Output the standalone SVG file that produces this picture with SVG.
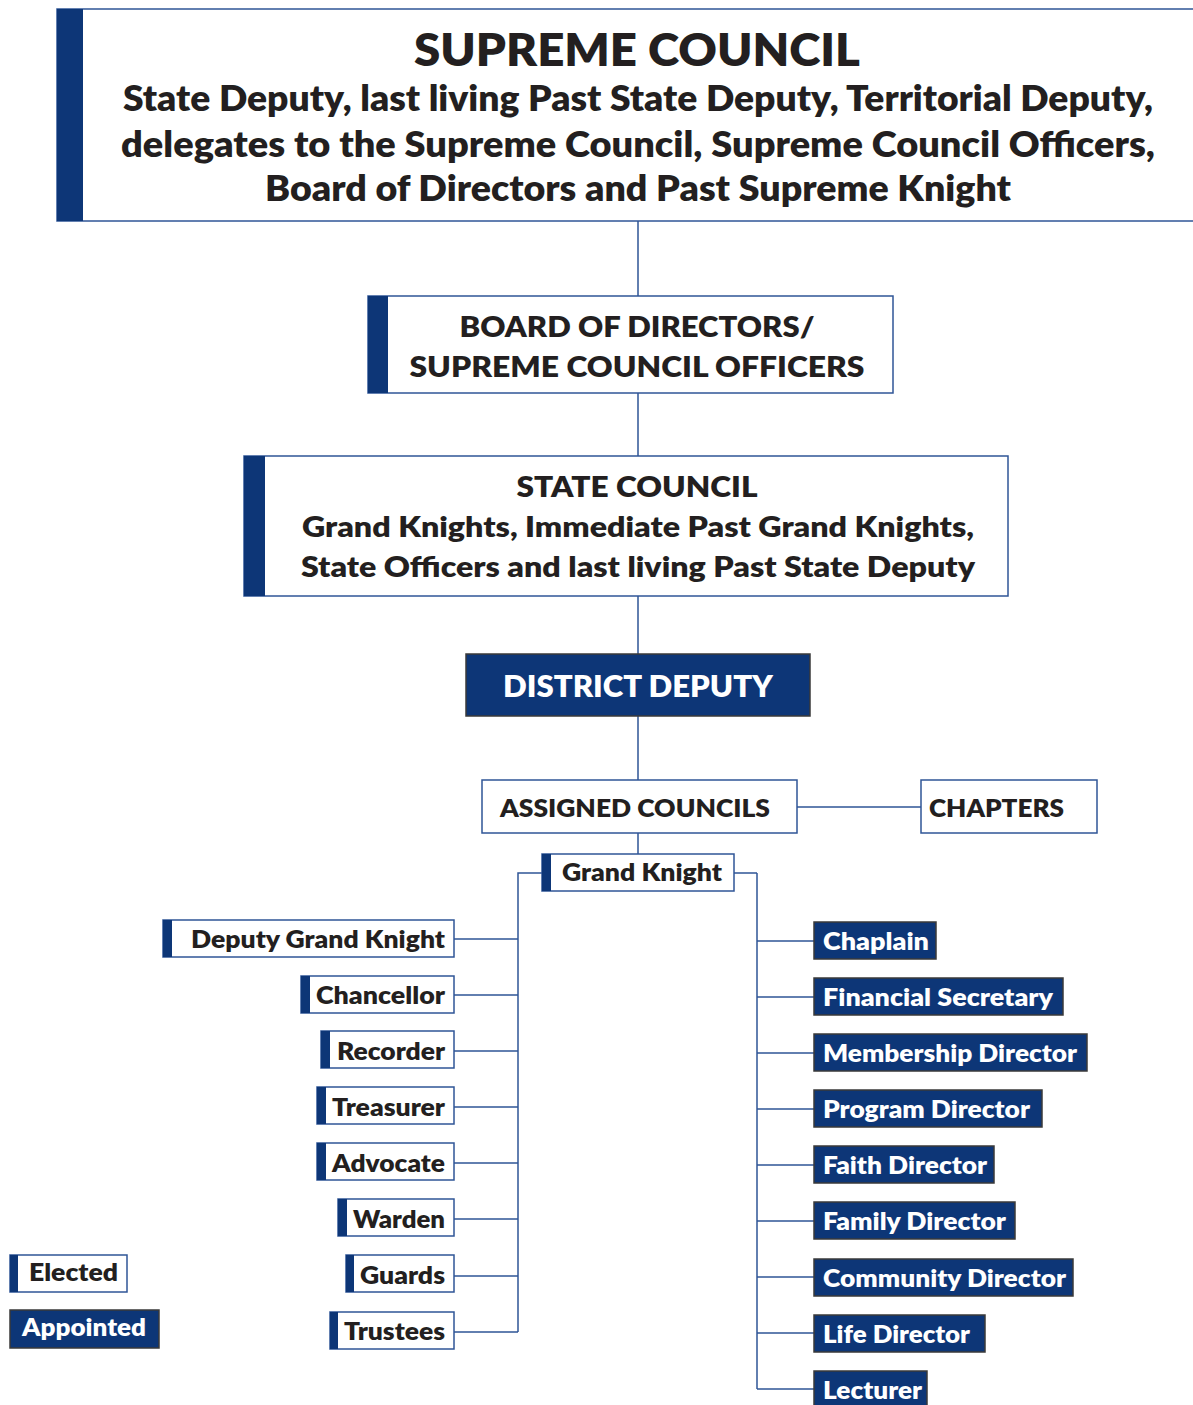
<svg xmlns="http://www.w3.org/2000/svg" width="1193" height="1405" viewBox="0 0 1193 1405">
<style>
.box{fill:#fff;stroke:#2f5597;stroke-width:1.5}
.bar{fill:#0d3677}
.app{fill:#0d3677;stroke:#3a3a3a;stroke-width:1.5}
.t{font-family:Lato,"Open Sans","Liberation Sans",sans-serif;font-weight:800;fill:#231f20}
.w{fill:#fff}
.c{text-anchor:middle}
.e{text-anchor:end}
.ln{fill:none;stroke:#2f5597;stroke-width:1.5}
</style>
<rect width="1193" height="1405" fill="#fff"/>
<g id="connectors">
<path class="ln" d="M638 221V296M638 393V456M638 596V654M638 716V780M638 833V854M797 807H921"/>
<path class="ln" d="M542 873H518V1332M757 873V1389M734 873H757"/>
<path class="ln" d="M454 939H518M454 995H518M454 1051H518M454 1107H518M454 1163H518M454 1219H518M454 1276H518M454 1332H518"/>
<path class="ln" d="M757 941H814M757 997H814M757 1053H814M757 1109H814M757 1165H814M757 1221H814M757 1277H814M757 1333H814M757 1389H814"/>
</g>
<g id="supreme">
<rect class="box" x="57" y="9" width="1150" height="212"/>
<rect class="bar" x="57" y="9" width="26" height="212"/>
<text class="t c" x="637" y="66" font-size="46" textLength="446" lengthAdjust="spacingAndGlyphs">SUPREME COUNCIL</text>
<text class="t c" x="638" y="111" font-size="35" textLength="1030" lengthAdjust="spacingAndGlyphs">State Deputy, last living Past State Deputy, Territorial Deputy,</text>
<text class="t c" x="638" y="157" font-size="35" textLength="1034" lengthAdjust="spacingAndGlyphs">delegates to the Supreme Council, Supreme Council Officers,</text>
<text class="t c" x="638" y="201" font-size="35" textLength="746" lengthAdjust="spacingAndGlyphs">Board of Directors and Past Supreme Knight</text>
</g>
<g id="board">
<rect class="box" x="368" y="296" width="525" height="97"/>
<rect class="bar" x="368" y="296" width="20" height="97"/>
<text class="t c" x="637" y="337" font-size="28" textLength="355" lengthAdjust="spacingAndGlyphs">BOARD OF DIRECTORS/</text>
<text class="t c" x="637" y="377" font-size="28" textLength="455" lengthAdjust="spacingAndGlyphs">SUPREME COUNCIL OFFICERS</text>
</g>
<g id="state">
<rect class="box" x="244" y="456" width="764" height="140"/>
<rect class="bar" x="244" y="456" width="21" height="140"/>
<text class="t c" x="637" y="497" font-size="28" textLength="241" lengthAdjust="spacingAndGlyphs">STATE COUNCIL</text>
<text class="t c" x="638" y="537" font-size="28" textLength="672" lengthAdjust="spacingAndGlyphs">Grand Knights, Immediate Past Grand Knights,</text>
<text class="t c" x="638" y="577" font-size="28" textLength="674" lengthAdjust="spacingAndGlyphs">State Officers and last living Past State Deputy</text>
</g>
<g id="district">
<rect class="app" x="466" y="654" width="344" height="62"/>
<text class="t w c" x="638" y="697" font-size="30" textLength="270" lengthAdjust="spacingAndGlyphs">DISTRICT DEPUTY</text>
</g>
<g id="assigned">
<rect class="box" x="482" y="780" width="315" height="53"/>
<text class="t" x="500" y="817" font-size="25" textLength="270" lengthAdjust="spacingAndGlyphs">ASSIGNED COUNCILS</text>
</g>
<g id="chapters">
<rect class="box" x="921" y="780" width="176" height="53"/>
<text class="t" x="929" y="817" font-size="25" textLength="135" lengthAdjust="spacingAndGlyphs">CHAPTERS</text>
</g>
<g id="grand-knight">
<rect class="box" x="542" y="854" width="192" height="37"/>
<rect class="bar" x="542" y="854" width="9" height="37"/>
<text class="t" x="562" y="881" font-size="25" textLength="160" lengthAdjust="spacingAndGlyphs">Grand Knight</text>
</g>
<g id="deputy-grand-knight">
<rect class="box" x="163" y="920" width="291" height="37"/>
<rect class="bar" x="163" y="920" width="9" height="37"/>
<text class="t e" x="445" y="948" font-size="25" textLength="254" lengthAdjust="spacingAndGlyphs">Deputy Grand Knight</text>
</g>
<g id="chancellor">
<rect class="box" x="301" y="976" width="153" height="37"/>
<rect class="bar" x="301" y="976" width="9" height="37"/>
<text class="t e" x="445" y="1004" font-size="25" textLength="129" lengthAdjust="spacingAndGlyphs">Chancellor</text>
</g>
<g id="recorder">
<rect class="box" x="321" y="1031" width="133" height="37"/>
<rect class="bar" x="321" y="1031" width="9" height="37"/>
<text class="t e" x="445" y="1060" font-size="25" textLength="108" lengthAdjust="spacingAndGlyphs">Recorder</text>
</g>
<g id="treasurer">
<rect class="box" x="317" y="1087" width="137" height="37"/>
<rect class="bar" x="317" y="1087" width="9" height="37"/>
<text class="t e" x="445" y="1116" font-size="25" textLength="113" lengthAdjust="spacingAndGlyphs">Treasurer</text>
</g>
<g id="advocate">
<rect class="box" x="317" y="1143" width="137" height="37"/>
<rect class="bar" x="317" y="1143" width="9" height="37"/>
<text class="t e" x="445" y="1172" font-size="25" textLength="113" lengthAdjust="spacingAndGlyphs">Advocate</text>
</g>
<g id="warden">
<rect class="box" x="338" y="1199" width="116" height="37"/>
<rect class="bar" x="338" y="1199" width="9" height="37"/>
<text class="t e" x="445" y="1228" font-size="25" textLength="92" lengthAdjust="spacingAndGlyphs">Warden</text>
</g>
<g id="guards">
<rect class="box" x="346" y="1255" width="108" height="37"/>
<rect class="bar" x="346" y="1255" width="8" height="37"/>
<text class="t e" x="445" y="1284" font-size="25" textLength="85" lengthAdjust="spacingAndGlyphs">Guards</text>
</g>
<g id="trustees">
<rect class="box" x="330" y="1312" width="124" height="37"/>
<rect class="bar" x="330" y="1312" width="8" height="37"/>
<text class="t e" x="445" y="1340" font-size="25" textLength="101" lengthAdjust="spacingAndGlyphs">Trustees</text>
</g>
<g id="chaplain">
<rect class="app" x="814" y="922" width="122" height="37"/>
<text class="t w" x="823" y="950" font-size="25" textLength="106" lengthAdjust="spacingAndGlyphs">Chaplain</text>
</g>
<g id="financial-secretary">
<rect class="app" x="814" y="978" width="249" height="37"/>
<text class="t w" x="823" y="1006" font-size="25" textLength="230" lengthAdjust="spacingAndGlyphs">Financial Secretary</text>
</g>
<g id="membership-director">
<rect class="app" x="814" y="1034" width="273" height="37"/>
<text class="t w" x="823" y="1062" font-size="25" textLength="254" lengthAdjust="spacingAndGlyphs">Membership Director</text>
</g>
<g id="program-director">
<rect class="app" x="814" y="1090" width="228" height="37"/>
<text class="t w" x="823" y="1118" font-size="25" textLength="207" lengthAdjust="spacingAndGlyphs">Program Director</text>
</g>
<g id="faith-director">
<rect class="app" x="814" y="1146" width="180" height="37"/>
<text class="t w" x="823" y="1174" font-size="25" textLength="164" lengthAdjust="spacingAndGlyphs">Faith Director</text>
</g>
<g id="family-director">
<rect class="app" x="814" y="1202" width="201" height="37"/>
<text class="t w" x="823" y="1230" font-size="25" textLength="183" lengthAdjust="spacingAndGlyphs">Family Director</text>
</g>
<g id="community-director">
<rect class="app" x="814" y="1259" width="259" height="37"/>
<text class="t w" x="823" y="1287" font-size="25" textLength="243" lengthAdjust="spacingAndGlyphs">Community Director</text>
</g>
<g id="life-director">
<rect class="app" x="814" y="1315" width="171" height="37"/>
<text class="t w" x="823" y="1343" font-size="25" textLength="147" lengthAdjust="spacingAndGlyphs">Life Director</text>
</g>
<g id="lecturer">
<rect class="app" x="814" y="1371" width="113" height="40"/>
<text class="t w" x="823" y="1399" font-size="25" textLength="99" lengthAdjust="spacingAndGlyphs">Lecturer</text>
</g>
<g id="legend-elected">
<rect class="box" x="10" y="1255" width="117" height="37"/>
<rect class="bar" x="10" y="1255" width="8" height="37"/>
<text class="t" x="29" y="1281" font-size="25" textLength="89" lengthAdjust="spacingAndGlyphs">Elected</text>
</g>
<g id="legend-appointed">
<rect class="app" x="10" y="1310" width="149" height="38"/>
<text class="t w" x="22" y="1336" font-size="25" textLength="124" lengthAdjust="spacingAndGlyphs">Appointed</text>
</g>
</svg>
